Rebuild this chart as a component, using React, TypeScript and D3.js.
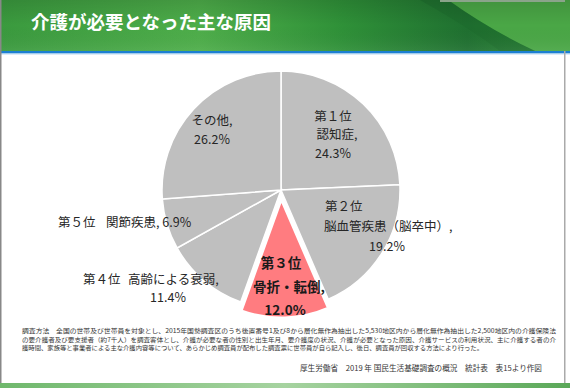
import React from 'react';
import * as d3 from 'd3';

// slices clockwise from 12 o'clock
const causes = ['認知症', '脳血管疾患（脳卒中）', '骨折・転倒', '高齢による衰弱', '関節疾患', 'その他'];
const shares = [24.3, 19.2, 12.0, 11.4, 6.9, 26.2];
const ranks = ['第１位', '第２位', '第３位', '第４位', '第５位', ''];
const highlight = '骨折・転倒';

const title = '介護が必要となった主な原因';
const noteLines = [
  '調査方法　全国の世帯及び世帯員を対象とし、2015年国勢調査区のうち後置番号1及び8から層化無作為抽出した5,530地区内から層化無作為抽出した2,500地区内の介護保険法',
  'の要介護者及び要支援者（約7千人）を調査客体とし、介護が必要な者の性別と出生年月、要介護度の状況、介護が必要となった原因、介護サービスの利用状況、主に介護する者の介',
  '護時間、家族等と事業者による主な介護内容等について、あらかじめ調査員が配布した調査票に世帯員が自ら記入し、後日、調査員が回収する方法により行った。',
];
const source = '厚生労働省　2019 年 国民生活基礎調査の概況　統計表　表15より作図';

const W = 570;
const H = 388;
const cx = 281;
const cy = 190;
const R = 119;
const font = "'Noto Sans CJK JP', 'Noto Sans', sans-serif";

const pct = (v: number) => `${v.toFixed(1)}%`;

export default function App() {
  const pie = d3.pie<number>().sort(null).value((d) => d);
  const arcs = pie(shares);
  const arc = d3.arc<d3.PieArcDatum<number>>().innerRadius(0).outerRadius(R);

  // label layout per slice: [text, x, y, anchor]
  const lbl: Record<string, [string, number, number, string][]> = {
    '認知症': [
      [ranks[0], 333, 121, 'middle'],
      [causes[0] + ',', 337, 139, 'middle'],
      [pct(shares[0]), 333, 158, 'middle'],
    ],
    '脳血管疾患（脳卒中）': [
      [ranks[1], 325, 211, 'start'],
      [causes[1] + ',', 324, 231, 'start'],
      [pct(shares[1]), 387, 251, 'middle'],
    ],
    '高齢による衰弱': [
      [ranks[3], 83, 284, 'start'],
      [causes[3] + ',', 128, 284, 'start'],
      [pct(shares[3]), 168, 302, 'middle'],
    ],
    '関節疾患': [
      [ranks[4], 58, 227, 'start'],
      [`${causes[4]}, ${pct(shares[4])}`, 106, 227, 'start'],
    ],
    'その他': [
      [causes[5] + ',', 212, 125, 'middle'],
      [pct(shares[5]), 212, 144, 'middle'],
    ],
  };

  return (
    <svg width={W} height={H} style={{ position: 'absolute', left: 0, top: 0, background: '#fff' }}>
      <defs>
        <linearGradient id="hdr" x1="0" x2="1" y1="0" y2="0">
          <stop offset="0" stopColor="#3a9a3e" />
          <stop offset="0.35" stopColor="#4eae4a" />
          <stop offset="0.6" stopColor="#2f9138" />
          <stop offset="0.82" stopColor="#1f7030" />
          <stop offset="1" stopColor="#2c8a34" />
        </linearGradient>
        <linearGradient id="hdrV" x1="0" x2="0" y1="0" y2="1">
          <stop offset="0" stopColor="#000" stopOpacity="0.12" />
          <stop offset="0.5" stopColor="#000" stopOpacity="0" />
          <stop offset="1" stopColor="#fff" stopOpacity="0.06" />
        </linearGradient>
        <linearGradient id="foot" x1="0" x2="1" y1="0" y2="0">
          <stop offset="0" stopColor="#6fb86c" />
          <stop offset="0.5" stopColor="#a6d3a0" />
          <stop offset="1" stopColor="#5aa858" />
        </linearGradient>
      </defs>

      {/* header band */}
      <rect x={0} y={0} width={W} height={51} fill="url(#hdr)" />
      <path d="M 448 0 Q 490 30 535 51 L 570 51 L 570 0 Z" fill="#4aa746" />
      <path d="M 448 0 Q 490 30 535 51 L 500 51 Q 470 28 420 0 Z" fill="#1c6a2c" opacity={0.5} />
      <rect x={440} y={0} width={125} height={2} fill="#9cb99c" />
      <rect x={0} y={0} width={W} height={51} fill="url(#hdrV)" />
      <rect x={0} y={51} width={W} height={2.5} fill="#1c7fd2" />
      <rect x={0} y={53.5} width={W} height={1} fill="#b9d9f0" />
      <text x={31} y={29} fill="#fff" fontFamily={font} fontWeight="bold" fontSize={18.5}>{title}</text>

      {/* frame */}
      <rect x={0} y={0} width={1.5} height={H} fill="#888" />
      <rect x={564} y={51} width={1.5} height={H - 51} fill="#aaa" />
      <rect x={0} y={383} width={W} height={5} fill="url(#foot)" />

      {/* pie */}
      <g transform={`translate(${cx},${cy})`}>
        {arcs.map((a, i) => {
          if (causes[i] === highlight) return null;
          return <path key={i} d={arc(a) || ''} fill="#bfbfbf" stroke="#fff" strokeWidth={1.5} />;
        })}
        {arcs.map((a, i) => {
          if (causes[i] !== highlight) return null;
          const mid = (a.startAngle + a.endAngle) / 2;
          const off = 9;
          return (
            <path
              key={i}
              d={arc(a) || ''}
              transform={`translate(${off * Math.sin(mid)},${-off * Math.cos(mid)})`}
              fill="#ff7c80"
              stroke="#fff"
              strokeWidth={3}
              strokeLinejoin="miter"
            />
          );
        })}
      </g>

      {/* labels */}
      <g fontFamily={font} fontSize={12.5} fill="#262626">
        {Object.values(lbl).flat().map(([t, x, y, anchor], k) => (
          <text key={k} x={x} y={y} textAnchor={anchor as any} style={{ whiteSpace: 'pre' }}>{t}</text>
        ))}
      </g>
      <g fontFamily={font} fontSize={13.5} fontWeight="bold" fill="#1a1a1a" textAnchor="middle">
        <text x={281} y={268}>{ranks[2]}</text>
        <text x={289} y={292}>{causes[2] + ','}</text>
        <text x={285} y={315}>{pct(shares[2])}</text>
      </g>

      {/* notes */}
      <g fontFamily={font} fontSize={6.2} fill="#333">
        <text x={22} y={333} textLength={534} lengthAdjust="spacingAndGlyphs">{noteLines[0]}</text>
        <text x={22} y={341.5} textLength={534} lengthAdjust="spacingAndGlyphs">{noteLines[1]}</text>
        <text x={22} y={350} textLength={461} lengthAdjust="spacingAndGlyphs">{noteLines[2]}</text>
        <text x={300} y={371} fontSize={7.6} textLength={242} lengthAdjust="spacingAndGlyphs">{source}</text>
      </g>
    </svg>
  );
}
